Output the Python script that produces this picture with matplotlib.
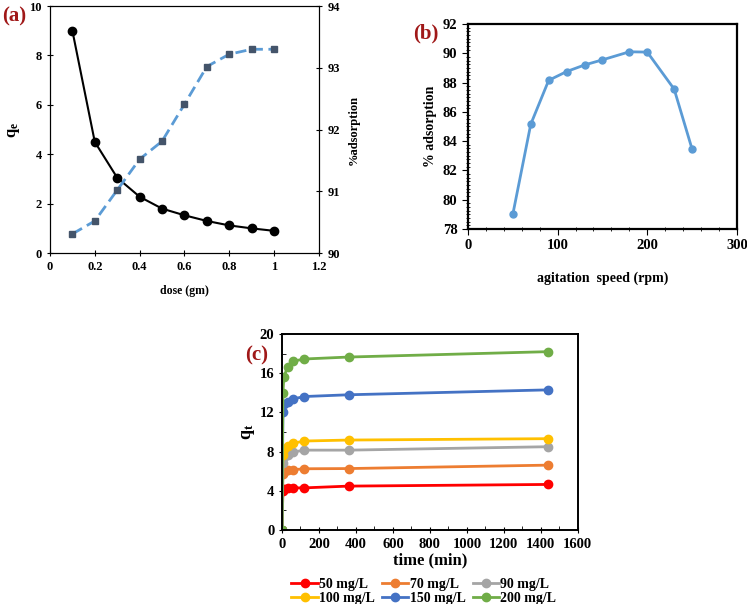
import numpy as np
import matplotlib
matplotlib.use("Agg")
import matplotlib.pyplot as plt
from matplotlib.ticker import MultipleLocator

plt.rcParams['font.family'] = ['Liberation Serif', 'DejaVu Serif']
plt.rcParams['font.weight'] = 'bold'
plt.rcParams['mathtext.fontset'] = 'custom'
plt.rcParams['mathtext.rm'] = 'Liberation Serif:bold'
plt.rcParams['mathtext.it'] = 'Liberation Serif:bold'

# (a) dose study
dose = [0.1, 0.2, 0.3, 0.4, 0.5, 0.6, 0.7, 0.8, 0.9, 1.0]
qe_dose = [9.0, 4.5, 3.05, 2.28, 1.8, 1.53, 1.3, 1.12, 1.0, 0.9]
ads_dose = [90.31, 90.52, 91.02, 91.52, 91.81, 92.41, 93.02, 93.22, 93.30, 93.30]

# (b) agitation speed study
speed = [50, 70, 90, 110, 130, 150, 180, 200, 230, 250]
ads_speed = [79.0, 85.15, 88.15, 88.75, 89.2, 89.55, 90.1, 90.08, 87.55, 83.45]

# (c) contact time study
time_min = [0, 5, 10, 30, 60, 120, 360, 1440]
conc_labels = ['50 mg/L', '70 mg/L', '90 mg/L', '100 mg/L', '150 mg/L', '200 mg/L']
qt_50 = [0, 4.0, 4.15, 4.25, 4.3, 4.3, 4.48, 4.65]
qt_70 = [0, 5.7, 5.95, 6.1, 6.15, 6.25, 6.27, 6.62]
qt_90 = [0, 6.8, 7.4, 7.7, 7.95, 8.15, 8.15, 8.5]
qt_100 = [0, 7.65, 8.3, 8.55, 8.85, 9.08, 9.18, 9.32]
qt_150 = [0, 12.0, 12.9, 13.1, 13.37, 13.62, 13.8, 14.3]
qt_200 = [0, 14.0, 15.6, 16.65, 17.22, 17.45, 17.65, 18.2]
conc_colors = ['#FF0000', '#ED7D31', '#A5A5A5', '#FFC000', '#4472C4', '#70AD47']

label_red = '#A01818'

fig = plt.figure(figsize=(7.47, 6.04), dpi=100)

# ---------------- panel (a)
ax1 = fig.add_axes([0.0669, 0.581, 0.360, 0.409])
ax1.plot(dose, qe_dose, color='black', lw=1.5, marker='o', ms=6, zorder=3)
ax1.set_xlim(0, 1.2)
ax1.set_ylim(0, 10)
ax1.set_xticks(np.arange(0, 1.21, 0.2))
ax1.set_xticklabels(['0', '0.2', '0.4', '0.6', '0.8', '1', '1.2'])
ax1.set_yticks(range(0, 11, 2))
ax1.tick_params(direction='inout', length=5, labelsize=9)
ax1.set_xlabel('dose (gm)', fontsize=8.5, fontweight='bold', labelpad=8)
ax1.set_ylabel('q$_\\mathregular{e}$', fontsize=12, fontweight='bold', labelpad=5)
ax2 = ax1.twinx()
ax2.plot(dose, ads_dose, color='#5B9BD5', lw=2, ls='--', dashes=(4, 2),
         marker='s', ms=5, mfc='#44546A', mec='#44546A')
ax2.set_ylim(90, 94)
ax2.set_yticks([90, 91, 92, 93, 94])
ax2.tick_params(direction='inout', length=5, labelsize=9)
ax2.set_ylabel('%adsorption', fontsize=9, fontweight='bold', rotation=90, labelpad=6)
fig.text(0.003, 0.972, '(a)', color=label_red, fontsize=15, fontweight='bold', va='center')

# ---------------- panel (b)
ax3 = fig.add_axes([0.6265, 0.6209, 0.360, 0.3394])
ax3.plot(speed, ads_speed, color='#5B9BD5', lw=2, marker='o', ms=5)
ax3.set_xlim(0, 300)
ax3.set_ylim(78, 92)
ax3.set_xticks([0, 100, 200, 300])
ax3.set_yticks(range(78, 93, 2))
ax3.xaxis.set_minor_locator(MultipleLocator(20))
ax3.yaxis.set_minor_locator(MultipleLocator(0.25))
ax3.tick_params(which='major', direction='out', length=4, labelsize=10.5)
ax3.tick_params(which='minor', direction='inout', length=3)
for s in ax3.spines.values():
    s.set_linewidth(1.6)
ax3.set_xlabel('agitation  speed (rpm)', fontsize=10, fontweight='bold', labelpad=14)
ax3.set_ylabel('% adsorption', fontsize=10, fontweight='bold')
fig.text(0.553, 0.945, '(b)', color=label_red, fontsize=15, fontweight='bold', va='center')

# ---------------- panel (c)
ax4 = fig.add_axes([0.3775, 0.1225, 0.396, 0.3245])
series = [qt_50, qt_70, qt_90, qt_100, qt_150, qt_200]
handles = []
for qt, lab, col in zip(series, conc_labels, conc_colors):
    h, = ax4.plot(time_min, qt, color=col, lw=2, marker='o', ms=6, label=lab)
    handles.append(h)
ax4.set_xlim(0, 1600)
ax4.set_ylim(0, 20)
ax4.set_xticks(range(0, 1601, 200))
ax4.set_yticks(range(0, 21, 4))
ax4.xaxis.set_minor_locator(MultipleLocator(100))
ax4.yaxis.set_minor_locator(MultipleLocator(2))
ax4.tick_params(which='major', direction='inout', length=4, labelsize=10.5)
ax4.tick_params(which='minor', direction='in', length=3)
for s in ax4.spines.values():
    s.set_linewidth(1.4)
ax4.set_xlabel('time (min)', fontsize=12, fontweight='bold', labelpad=1)
ax4.set_ylabel('q$_\\mathregular{t}$', fontsize=13, fontweight='bold', labelpad=2)
# legend filled row by row: 50/70/90 on top, 100/150/200 below
order = [0, 3, 1, 4, 2, 5]
ax4.legend([handles[i] for i in order], [conc_labels[i] for i in order],
           loc='upper center', bbox_to_anchor=(0.48, -0.21), ncol=3, frameon=False,
           fontsize=10, handlelength=1.9, handletextpad=0.1, columnspacing=0.5,
           labelspacing=0.05, borderpad=0)
fig.text(0.328, 0.411, '(c)', color=label_red, fontsize=15, fontweight='bold', va='center')

fig.savefig('out.png', dpi=100)
